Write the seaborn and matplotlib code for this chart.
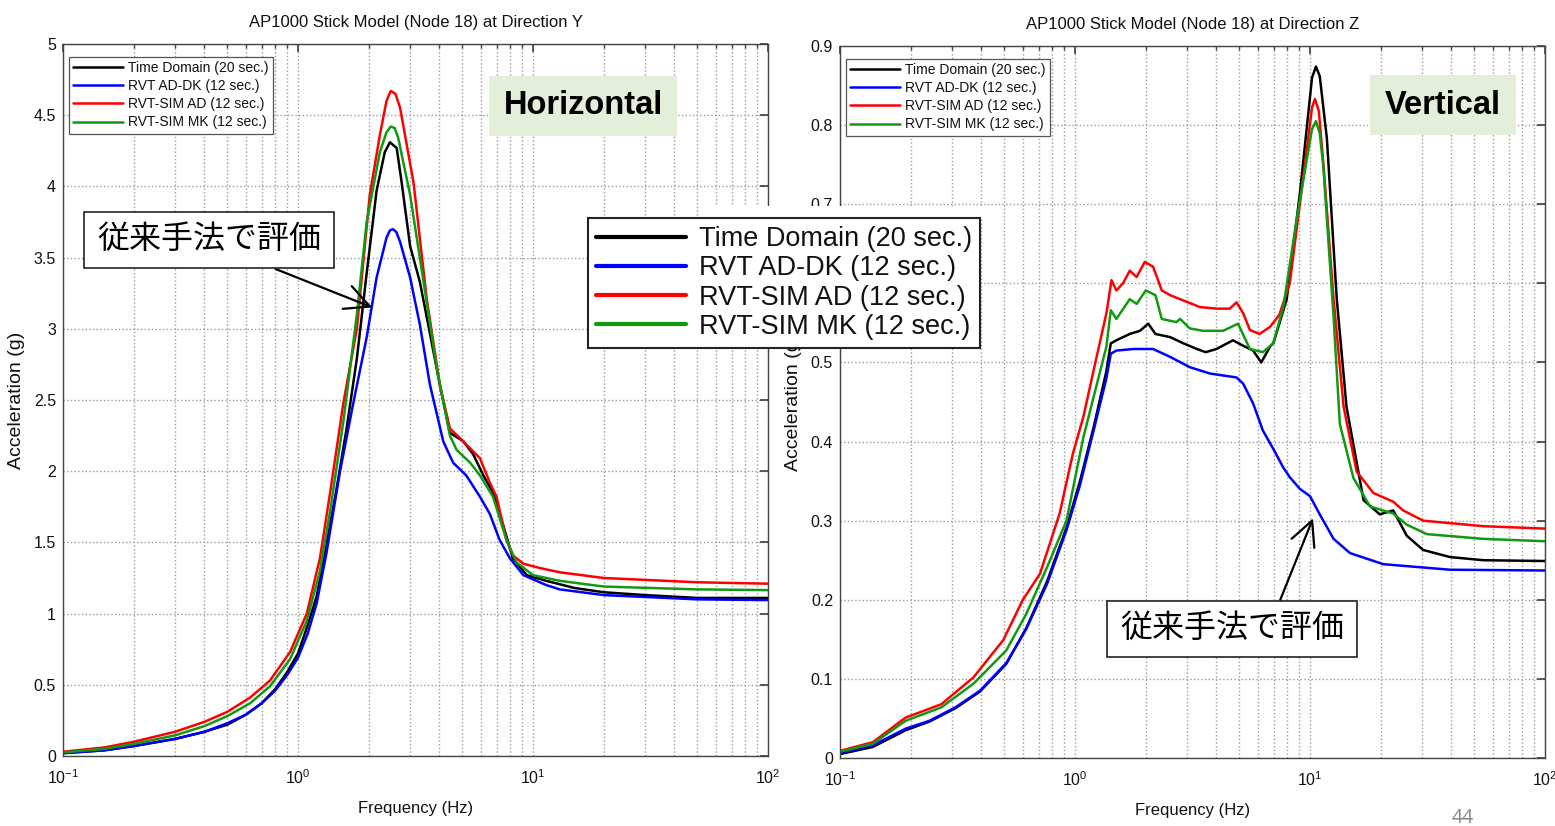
import numpy as np
import pandas as pd
import seaborn as sns
import matplotlib
matplotlib.use('Agg')
import matplotlib.pyplot as plt
from matplotlib.lines import Line2D
from matplotlib.patches import Rectangle
from matplotlib.ticker import LogLocator, NullFormatter

series_names = ['Time Domain (20 sec.)', 'RVT AD-DK (12 sec.)',
                'RVT-SIM AD (12 sec.)', 'RVT-SIM MK (12 sec.)']
series_colors = ['#000000', '#0000ff', '#ff0000', '#119911']

# --- Direction Y (horizontal) ---
y_time_freq = [0.1, 0.15, 0.2, 0.3, 0.4, 0.5, 0.6, 0.7, 0.8, 0.9, 1.0, 1.1, 1.2, 1.3,
               1.45, 1.61, 1.78, 1.96, 2.16, 2.34, 2.46, 2.63, 2.76, 3.0, 3.3, 3.64,
               4.02, 4.43, 5.05, 5.56, 6.15, 6.76, 7.5, 8.2, 9.4, 11.4, 15, 20, 30, 50, 100]
y_time_acc = [0.02, 0.04, 0.07, 0.12, 0.17, 0.22, 0.29, 0.37, 0.47, 0.59, 0.72, 0.92, 1.12, 1.42,
              1.85, 2.30, 2.79, 3.39, 3.97, 4.24, 4.31, 4.27, 4.03, 3.58, 3.33, 2.97,
              2.60, 2.27, 2.21, 2.12, 1.97, 1.85, 1.61, 1.39, 1.27, 1.23, 1.18, 1.15, 1.13, 1.11, 1.11]

y_rvt_freq = [0.1, 0.15, 0.2, 0.3, 0.4, 0.5, 0.6, 0.7, 0.8, 0.9, 1.0, 1.1, 1.2, 1.32,
              1.51, 1.72, 1.96, 2.16, 2.38, 2.46, 2.53, 2.62, 2.72, 3.0, 3.3, 3.64, 4.15, 4.57,
              5.2, 5.95, 6.55, 7.2, 7.96, 9.1, 11.4, 13, 20, 50, 100]
y_rvt_acc = [0.02, 0.04, 0.07, 0.12, 0.17, 0.23, 0.29, 0.37, 0.46, 0.57, 0.69, 0.86, 1.07, 1.42,
             2.0, 2.48, 2.94, 3.36, 3.64, 3.69, 3.70, 3.68, 3.61, 3.36, 3.03, 2.61, 2.21, 2.06,
             1.97, 1.82, 1.70, 1.52, 1.39, 1.27, 1.20, 1.17, 1.13, 1.10, 1.095]

y_simad_freq = [0.1, 0.15, 0.2, 0.3, 0.4, 0.5, 0.625, 0.76, 0.925, 1.09, 1.24, 1.37, 1.56,
                1.78, 2.02, 2.23, 2.38, 2.48, 2.6, 2.72, 3.1, 3.53, 4.02, 4.43, 5.05, 5.95, 6.55,
                7.0, 7.7, 8.2, 9.1, 10.7, 13, 20, 50, 100]
y_simad_acc = [0.03, 0.06, 0.10, 0.17, 0.24, 0.31, 0.41, 0.53, 0.73, 1.0, 1.39, 1.85, 2.48,
               3.0, 3.94, 4.36, 4.60, 4.67, 4.65, 4.55, 4.03, 3.21, 2.60, 2.30, 2.21, 2.09, 1.92,
               1.82, 1.52, 1.41, 1.35, 1.32, 1.29, 1.25, 1.22, 1.21]

y_simmk_freq = [0.1, 0.15, 0.2, 0.3, 0.4, 0.5, 0.625, 0.76, 0.925, 1.09, 1.24, 1.37, 1.56,
                1.78, 1.96, 2.23, 2.38, 2.48, 2.58, 2.67, 3.0, 3.4, 3.89, 4.43, 4.73, 5.4, 5.95,
                6.76, 7.7, 8.5, 10, 13, 20, 50, 100]
y_simmk_acc = [0.025, 0.05, 0.085, 0.145, 0.21, 0.28, 0.37, 0.49, 0.68, 0.95, 1.3, 1.72, 2.35,
               3.1, 3.75, 4.24, 4.38, 4.42, 4.41, 4.34, 3.94, 3.36, 2.73, 2.25, 2.15, 2.06, 1.97,
               1.82, 1.52, 1.36, 1.27, 1.23, 1.19, 1.17, 1.165]

# --- Direction Z (vertical) ---
z_time_freq = [0.1, 0.138, 0.19, 0.24, 0.31, 0.394, 0.51, 0.62, 0.76, 0.92, 1.05, 1.2, 1.36,
               1.42, 1.5, 1.71, 1.89, 2.05, 2.2, 2.54, 2.9, 3.3, 3.6, 4.0, 4.7, 5.2, 5.73,
               6.2, 6.76, 7.0, 7.96, 9.07, 10.2, 10.6, 11.0, 11.8, 13.0, 14.3, 16.9, 19.8, 22.6, 25.8,
               30.3, 39.4, 54.7, 100]
z_time_acc = [0.005, 0.014, 0.035, 0.046, 0.063, 0.084, 0.119, 0.164, 0.223, 0.291, 0.350, 0.418, 0.489,
              0.524, 0.528, 0.536, 0.540, 0.549, 0.536, 0.532, 0.524, 0.517, 0.513, 0.517, 0.528, 0.521, 0.515,
              0.500, 0.520, 0.525, 0.580, 0.715, 0.860, 0.874, 0.862, 0.783, 0.580, 0.444, 0.326, 0.308, 0.313,
              0.281, 0.263, 0.254, 0.250, 0.249]

z_rvt_freq = [0.1, 0.138, 0.19, 0.24, 0.31, 0.394, 0.51, 0.62, 0.76, 0.92, 1.05, 1.2, 1.36,
              1.42, 1.5, 1.77, 2.15, 2.54, 3.08, 3.75, 4.87, 5.2, 5.73, 6.3, 7.0, 7.7, 8.2,
              9.07, 10.0, 11.0, 12.6, 14.8, 20.5, 39.4, 100]
z_rvt_acc = [0.006, 0.016, 0.037, 0.047, 0.064, 0.085, 0.120, 0.163, 0.220, 0.288, 0.345, 0.414, 0.480,
             0.511, 0.515, 0.517, 0.517, 0.507, 0.494, 0.486, 0.481, 0.473, 0.448, 0.414, 0.390, 0.367, 0.355,
             0.340, 0.331, 0.308, 0.277, 0.259, 0.245, 0.238, 0.237]

z_simad_freq = [0.1, 0.138, 0.19, 0.27, 0.37, 0.495, 0.6, 0.71, 0.86, 0.98, 1.085, 1.2, 1.36,
                1.43, 1.5, 1.6, 1.71, 1.83, 1.98, 2.15, 2.34, 2.54, 2.8, 3.4, 4.0, 4.56, 4.87,
                5.2, 5.55, 6.1, 6.76, 7.4, 8.2, 9.4, 10.2, 10.5, 10.9, 11.4, 12.6, 13.9, 15.8, 18.6, 22.6,
                24.9, 30.3, 54.7, 100]
z_simad_acc = [0.009, 0.020, 0.051, 0.068, 0.102, 0.149, 0.200, 0.233, 0.309, 0.385, 0.431, 0.490, 0.562,
               0.604, 0.591, 0.600, 0.616, 0.608, 0.627, 0.621, 0.591, 0.585, 0.580, 0.570, 0.568, 0.568, 0.576,
               0.562, 0.541, 0.536, 0.545, 0.560, 0.600, 0.738, 0.822, 0.833, 0.818, 0.751, 0.580, 0.444, 0.362,
               0.335, 0.324, 0.313, 0.300, 0.293, 0.290]

z_simmk_freq = [0.1, 0.138, 0.19, 0.27, 0.37, 0.51, 0.62, 0.76, 0.92, 1.085, 1.24, 1.36, 1.42,
                1.5, 1.71, 1.83, 2.0, 2.2, 2.34, 2.7, 2.8, 3.08, 3.5, 4.27, 4.94, 5.55, 6.3,
                6.97, 7.7, 8.8, 10.2, 10.6, 11.0, 11.4, 12.6, 13.4, 15.3, 18.0, 22.6, 25.8, 31.4, 54.7, 100]
z_simmk_acc = [0.008, 0.018, 0.047, 0.064, 0.094, 0.136, 0.182, 0.241, 0.300, 0.405, 0.473, 0.520, 0.566,
               0.555, 0.580, 0.574, 0.591, 0.585, 0.555, 0.551, 0.555, 0.543, 0.540, 0.540, 0.549, 0.517, 0.513,
               0.524, 0.570, 0.683, 0.795, 0.805, 0.790, 0.747, 0.557, 0.422, 0.354, 0.318, 0.309, 0.295,
               0.283, 0.277, 0.274]

y_ticks = [0, 0.5, 1, 1.5, 2, 2.5, 3, 3.5, 4, 4.5, 5]
y_ticklabels = ['0', '0.5', '1', '1.5', '2', '2.5', '3', '3.5', '4', '4.5', '5']
z_ticks = [0, 0.1, 0.2, 0.3, 0.4, 0.5, 0.6, 0.7, 0.8, 0.9]
z_ticklabels = ['0', '0.1', '0.2', '0.3', '0.4', '0.5', '0.6', '0.7', '0.8', '0.9']
note_text = '従来手法で評価'


def panel_frame(freqs, accs):
    parts = []
    for name, f, a in zip(series_names, freqs, accs):
        parts.append(pd.DataFrame({'freq': f, 'acc': a, 'series': name}))
    return pd.concat(parts, ignore_index=True)


df_y = panel_frame([y_time_freq, y_rvt_freq, y_simad_freq, y_simmk_freq],
                   [y_time_acc, y_rvt_acc, y_simad_acc, y_simmk_acc])
df_z = panel_frame([z_time_freq, z_rvt_freq, z_simad_freq, z_simmk_freq],
                   [z_time_acc, z_rvt_acc, z_simad_acc, z_simmk_acc])

sns.set_theme(style='white')
plt.rcParams['font.family'] = ['Liberation Sans', 'Noto Sans CJK JP', 'DejaVu Sans']
plt.rcParams['mathtext.default'] = 'regular'
for key in ['text.color', 'axes.labelcolor', 'xtick.labelcolor', 'ytick.labelcolor']:
    plt.rcParams[key] = '#111111'

fig = plt.figure(figsize=(15.55, 8.26), dpi=100)
ax1 = fig.add_axes([63 / 1555, 1 - 756 / 826, 705 / 1555, 712 / 826])
ax2 = fig.add_axes([840 / 1555, 1 - 758 / 826, 705 / 1555, 712 / 826])


def draw_panel(ax, df, ymax, ticks, labels, title):
    ax.set_xscale('log')
    sns.lineplot(data=df, x='freq', y='acc', hue='series', hue_order=series_names,
                 palette=series_colors, estimator=None, sort=True, linewidth=1.8,
                 legend=False, ax=ax)
    ax.set_xlim(0.1, 100)
    ax.set_ylim(0, ymax)
    ax.set_xticks([0.1, 1, 10, 100])
    ax.xaxis.set_minor_locator(LogLocator(base=10, subs=np.arange(2, 10)))
    ax.xaxis.set_minor_formatter(NullFormatter())
    ax.set_yticks(ticks)
    ax.set_yticklabels(labels)
    ax.grid(True, which='major', axis='both', linestyle=':', color='#9a9a9a', linewidth=1)
    ax.grid(True, which='minor', axis='x', linestyle=':', color='#9a9a9a', linewidth=1)
    ax.tick_params(which='both', direction='in', top=True, right=True,
                   color='#444444', labelsize=11.5)
    ax.tick_params(axis='x', pad=9)
    ax.tick_params(axis='y', pad=5)
    ax.tick_params(which='major', length=6)
    ax.tick_params(which='minor', length=3)
    for s in ax.spines.values():
        s.set_color('#444444')
        s.set_linewidth(1)
    ax.set_title(title, fontsize=12, pad=12)
    ax.set_xlabel('Frequency (Hz)', fontsize=12, labelpad=10)
    ax.set_ylabel('Acceleration (g)', fontsize=14, labelpad=6)
    leg = ax.legend(ax.get_lines()[:4], series_names, loc='upper left',
                    bbox_to_anchor=(0.008, 0.982), borderaxespad=0, fontsize=10,
                    fancybox=False, framealpha=1, edgecolor='#555555', borderpad=0.3,
                    labelspacing=0.3, handlelength=3.6, handletextpad=0.4)
    leg.get_frame().set_linewidth(0.9)


draw_panel(ax1, df_y, 5, y_ticks, y_ticklabels, 'AP1000 Stick Model (Node 18) at Direction Y')
draw_panel(ax2, df_z, 0.9, z_ticks, z_ticklabels, 'AP1000 Stick Model (Node 18) at Direction Z')

# label boxes
tag_box = dict(boxstyle='square,pad=0.45', facecolor='#e3efd9', edgecolor='none')
fig.text(583 / 1555, 1 - 106 / 826, 'Horizontal', fontsize=23.5, fontweight='bold',
         color='black', ha='center', va='center', bbox=tag_box)
fig.text(1443 / 1555, 1 - 105 / 826, 'Vertical', fontsize=23.5, fontweight='bold',
         color='black', ha='center', va='center', bbox=tag_box)

# annotations
note_box = dict(boxstyle='square,pad=0.42', facecolor='white', edgecolor='#222222', linewidth=1.2)
arrow_style = '->,head_length=0.8,head_width=0.4'
ax1.annotate(note_text, xy=(2.07, 3.15), xycoords='data',
             xytext=(209 / 1555, 1 - 240 / 826), textcoords='figure fraction',
             fontsize=23, color='black', ha='center', va='center', bbox=note_box,
             arrowprops=dict(arrowstyle=arrow_style, color='black', lw=1.6,
                             relpos=(0.64, 0), shrinkA=0, shrinkB=0, mutation_scale=22))
ax2.annotate(note_text, xy=(10.3, 0.303), xycoords='data',
             xytext=(1232 / 1555, 1 - 629 / 826), textcoords='figure fraction',
             fontsize=23, color='black', ha='center', va='center', bbox=note_box,
             arrowprops=dict(arrowstyle=arrow_style, color='black', lw=1.6,
                             relpos=(0.69, 1), shrinkA=0, shrinkB=0, mutation_scale=22))

# pasted overlay: white strip above the big legend
fig.patches.append(Rectangle((712 / 1555, 1 - 219 / 826), 285 / 1555, 13 / 826,
                             transform=fig.transFigure, facecolor='white',
                             edgecolor='none', zorder=4))

# large overlay legend
big_handles = [Line2D([0], [0], color=c, lw=3) for c in series_colors]
big = fig.legend(big_handles, series_names, loc='upper left',
                 bbox_to_anchor=(588 / 1555, 1 - 218 / 826), borderaxespad=0,
                 fontsize=19.5, fancybox=False, framealpha=1, edgecolor='#222222',
                 borderpad=0.3, labelspacing=0.12, handlelength=3.3, handletextpad=0.5)
big.get_frame().set_linewidth(1.5)
big.set_zorder(6)

fig.text(1463 / 1555, 1 - 818 / 826, '44', fontsize=14, color='#8c8c8c',
         ha='center', va='center', family=['Noto Sans', 'DejaVu Sans'])

fig.savefig('out.png', dpi=100)
